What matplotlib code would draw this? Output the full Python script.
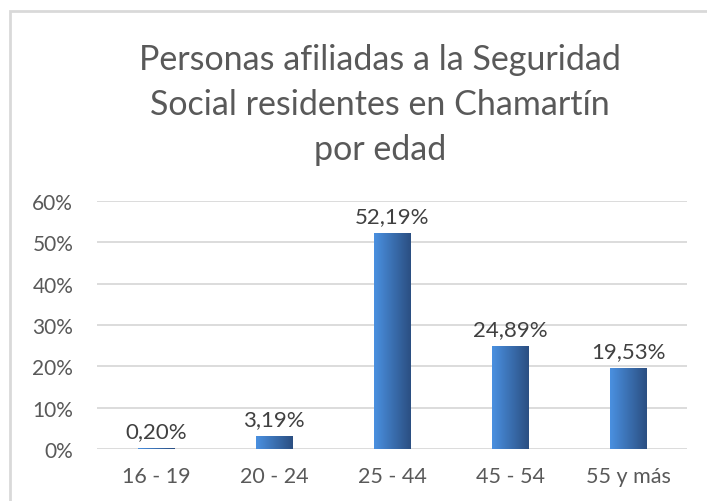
import numpy as np
import matplotlib.pyplot as plt
from matplotlib.patches import Rectangle
from matplotlib.colors import LinearSegmentedColormap

plt.rcParams['font.family'] = ['Lato', 'DejaVu Sans']

# datos
grupos = ['16 - 19', '20 - 24', '25 - 44', '45 - 54', '55 y más']
porcentajes = [0.20, 3.19, 52.19, 24.89, 19.53]
etiquetas = ['0,20%', '3,19%', '52,19%', '24,89%', '19,53%']
yticks = [0, 10, 20, 30, 40, 50, 60]

fig = plt.figure(figsize=(7.07, 5.02), dpi=100)
ax = fig.add_axes([0.137, 0.1036, 0.835, 0.4944])

# marco del gráfico
fig.patches.append(Rectangle((10 / 707, -0.1), 1.2, 1 - 12 / 502 + 0.1,
                             transform=fig.transFigure, fill=False,
                             edgecolor='#D9D9D9', linewidth=2))

x = np.arange(len(grupos))
ancho = 0.31
grad = LinearSegmentedColormap.from_list('azul', ['#4A90E0', '#2B4F82'])
gradiente = np.linspace(0, 1, 64).reshape(1, -1)

barras = ax.bar(x, porcentajes, width=ancho, color='none', zorder=2)
for b in barras:
    x0, y0 = b.get_x(), b.get_y()
    im = ax.imshow(gradiente, cmap=grad, aspect='auto', zorder=2,
                   extent=[x0, x0 + b.get_width(), y0, y0 + b.get_height()])
    im.set_clip_path(b)

for xi, v, t in zip(x, porcentajes, etiquetas):
    ax.annotate(t, (xi, v), xytext=(0, 5), textcoords='offset points',
                ha='center', va='bottom', fontsize=16, color='#404040')

ax.set_xlim(-0.5, len(grupos) - 0.5)
ax.set_ylim(0, 60)
ax.set_yticks(yticks)
ax.set_yticklabels([f'{t}%' for t in yticks])
ax.set_xticks(x)
ax.set_xticklabels(grupos)
ax.tick_params(axis='both', length=0, labelsize=15, colors='#595959')
ax.tick_params(axis='x', labelsize=15.5, pad=12)
ax.tick_params(axis='y', pad=17)
ax.grid(axis='y', color='#D9D9D9', linewidth=1.3, zorder=0)
ax.set_axisbelow(True)
for s in ax.spines.values():
    s.set_visible(False)

fig.text(0.537, 1 - 105 / 502, 'Personas afiliadas a la Seguridad\nSocial residentes en Chamartín\npor edad',
         ha='center', va='center', fontsize=24.5, color='#595959', linespacing=1.5)

fig.savefig('out.png', dpi=100)
